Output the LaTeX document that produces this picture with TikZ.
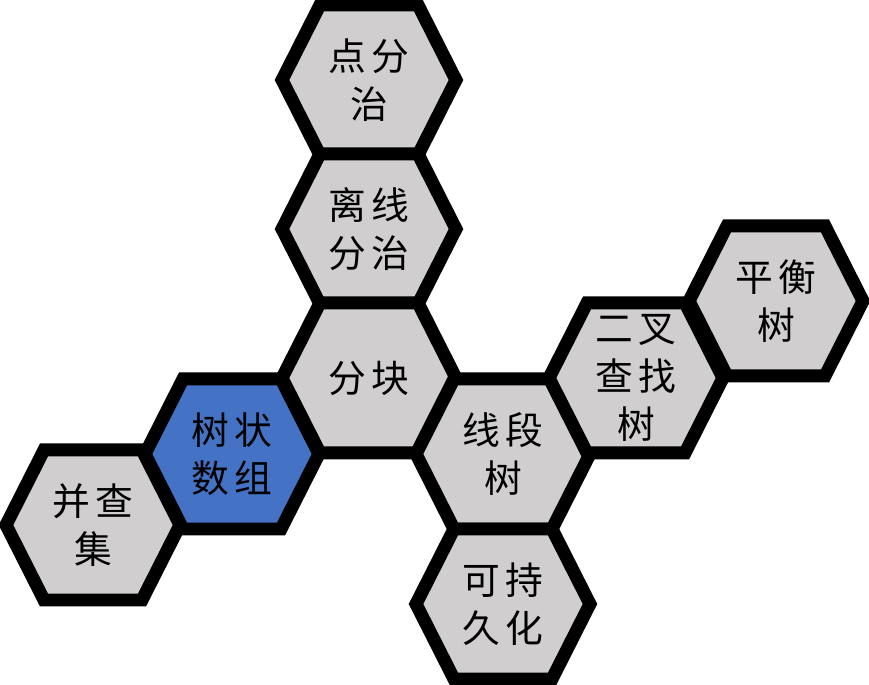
\documentclass[tikz,border=0pt]{standalone}
\usepackage{fontspec}
\newfontfamily\cjk[LetterSpace=13]{Noto Sans CJK SC}
\definecolor{cellgray}{HTML}{D0CECE}
\definecolor{cellblue}{HTML}{4472C4}
\tikzset{
    cell/.style={draw=black, line width=0.26cm, line join=miter},
    celltext/.style={align=center, font=\cjk\fontsize{21.5pt}{27.3pt}\selectfont}
}
\begin{document}
\begin{tikzpicture}[x=0.02cm, y=-0.02cm]
    \useasboundingbox (0,0) rectangle (869,685);

    % One hexagon per topic: name / centre x / centre y / fill / text
    \foreach \name/\x/\y/\col/\txt in {
        dianfenzhi/369/80/cellgray/{点分\\治},
        lixianfenzhi/369/229/cellgray/{离线\\分治},
        fenkuai/369/378/cellgray/{分块},
        shuzhuang/232/454/cellblue/{树状\\数组},
        bingchaji/93/525/cellgray/{并查\\集},
        xianduanshu/503/454/cellgray/{线段\\树},
        kechijiu/503/604/cellgray/{可持\\久化},
        chazhaoshu/636/378/cellgray/{二叉\\查找\\树},
        pinghengshu/776/301/cellgray/{平衡\\树}} {
        % Flat top and bottom, pointed left and right
        \draw[cell, fill=\col] (\x,\y) ++(-87,0)
            -- ++(38,-75) -- ++(98,0) -- ++(38,75)
            -- ++(-38,75) -- ++(-98,0) -- cycle;
        \node[celltext] (\name) at (\x,\y) {\txt};
    }
\end{tikzpicture}
\end{document}
